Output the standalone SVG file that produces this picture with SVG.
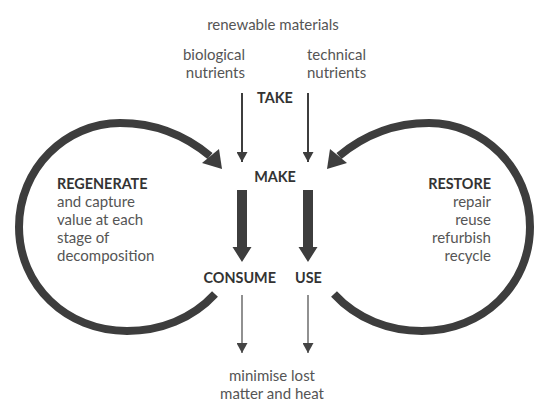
<svg xmlns="http://www.w3.org/2000/svg" width="544" height="406" viewBox="0 0 544 406">
  <defs>
    <style>
      .lbl { font-family: Lato, "Open Sans", "Liberation Sans", sans-serif; font-size: 15px; fill: #555; }
      .bold { font-family: Lato, "Open Sans", "Liberation Sans", sans-serif; font-size: 14.4px; font-weight: bold; fill: #333; }
      .thin { stroke: #3d3d3d; stroke-width: 2; fill: none; }
      .thinner { stroke: #555; stroke-width: 1.3; fill: none; }
      .loop { stroke: #3d3d3d; stroke-width: 8; fill: none; }
      .head { fill: #3d3d3d; }
    </style>
    <marker id="tip" viewBox="0 0 10 11" refX="10" refY="5.5" markerWidth="10" markerHeight="11" markerUnits="userSpaceOnUse" orient="auto">
      <path d="M0,0 L10,5.5 L0,11 z" fill="#3d3d3d"/>
    </marker>
    <marker id="tip2" viewBox="0 0 10 11" refX="10" refY="5.5" markerWidth="10" markerHeight="11" markerUnits="userSpaceOnUse" orient="auto">
      <path d="M0,0 L10,5.5 L0,11 z" fill="#444"/>
    </marker>
    <g id="loopShape">
      <path class="loop" d="M215,294 C192,319 160,331 127,331 C66,331 19,285 19,227 C19,168 66,123 120,123 C155,123 186,136 210,156"/>
      <polygon class="head" points="222,169 202,163 219,149"/>
    </g>
  </defs>

  <g id="connectors">
    <g id="regenerate-loop"><use href="#loopShape"/></g>
    <g id="restore-loop" transform="translate(549,0) scale(-1,1)"><use href="#loopShape"/></g>
    <line class="thin" x1="242" y1="93" x2="242" y2="162" marker-end="url(#tip)"/>
    <line class="thin" x1="308" y1="93" x2="308" y2="162" marker-end="url(#tip)"/>
    <polygon class="head" points="237,190 247,190 247,247 251.5,247 242,262 232.5,247 237,247"/>
    <polygon class="head" points="303,190 313,190 313,247 317.5,247 308,262 298.5,247 303,247"/>
    <line class="thinner" x1="242" y1="295" x2="242" y2="353" marker-end="url(#tip2)"/>
    <line class="thinner" x1="308" y1="295" x2="308" y2="353" marker-end="url(#tip2)"/>
  </g>

  <g id="renewable">
    <text class="lbl" x="273" y="30" text-anchor="middle">renewable materials</text>
  </g>
  <g id="biological">
    <text class="lbl" x="245" y="60" text-anchor="end">biological</text>
    <text class="lbl" x="245" y="78" text-anchor="end">nutrients</text>
  </g>
  <g id="technical">
    <text class="lbl" x="307" y="60">technical</text>
    <text class="lbl" x="307" y="78">nutrients</text>
  </g>
  <g id="take">
    <text class="bold" x="275" y="103" text-anchor="middle">TAKE</text>
  </g>
  <g id="make">
    <text class="bold" x="275" y="182" text-anchor="middle">MAKE</text>
  </g>
  <g id="consume">
    <text class="bold" x="276" y="283" text-anchor="end">CONSUME</text>
  </g>
  <g id="use">
    <text class="bold" x="295" y="283">USE</text>
  </g>
  <g id="regenerate">
    <text class="bold" x="57" y="189">REGENERATE</text>
    <text class="lbl" x="57" y="207">and capture</text>
    <text class="lbl" x="57" y="225">value at each</text>
    <text class="lbl" x="57" y="243">stage of</text>
    <text class="lbl" x="57" y="261">decomposition</text>
  </g>
  <g id="restore">
    <text class="bold" x="491" y="189" text-anchor="end">RESTORE</text>
    <text class="lbl" x="491" y="207" text-anchor="end">repair</text>
    <text class="lbl" x="491" y="225" text-anchor="end">reuse</text>
    <text class="lbl" x="491" y="243" text-anchor="end">refurbish</text>
    <text class="lbl" x="491" y="261" text-anchor="end">recycle</text>
  </g>
  <g id="output">
    <text class="lbl" x="272" y="381" text-anchor="middle">minimise lost</text>
    <text class="lbl" x="272" y="399" text-anchor="middle">matter and heat</text>
  </g>
</svg>
